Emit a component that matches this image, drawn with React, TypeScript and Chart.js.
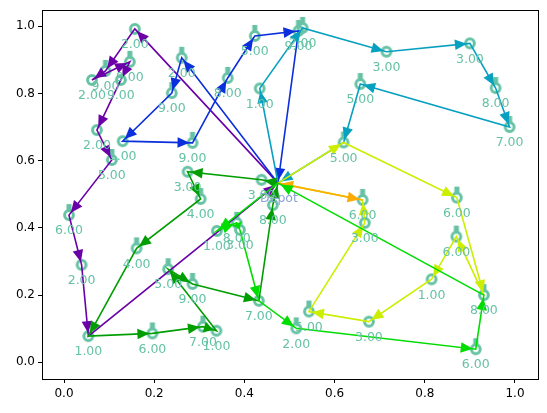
import React, { useEffect, useRef } from 'react';
import { Chart, registerables } from 'chart.js';

Chart.register(...registerables);

// Node data (index 0 is the depot)
const nodeX = [
  0.4745, 0.157, 0.092, 0.062, 0.146, 0.126, 0.073, 0.106, 0.011, 0.039,
  0.054, 0.261, 0.239, 0.13, 0.285, 0.363, 0.423, 0.52, 0.529, 0.434,
  0.715, 0.9, 0.957, 0.988, 0.657, 0.62, 0.871, 0.931, 0.87, 0.815,
  0.676, 0.543, 0.667, 0.662, 0.913, 0.515, 0.432, 0.339, 0.383, 0.39,
  0.438, 0.463, 0.274, 0.303, 0.161, 0.196, 0.308, 0.338, 0.231, 0.285,
];
const nodeY = [
  0.533, 0.992, 0.867, 0.84, 0.894, 0.84, 0.691, 0.602, 0.438, 0.29,
  0.078, 0.906, 0.801, 0.658, 0.653, 0.846, 0.971, 0.986, 0.995, 0.815,
  0.924, 0.949, 0.816, 0.7, 0.828, 0.654, 0.49, 0.2, 0.374, 0.247,
  0.121, 0.151, 0.415, 0.483, 0.039, 0.101, 0.183, 0.391, 0.415, 0.394,
  0.543, 0.468, 0.567, 0.486, 0.339, 0.086, 0.106, 0.094, 0.277, 0.233,
];
const nodeLabels = [
  'Depot', '2.00', '9.00', '2.00', '9.00', '9.00', '2.00', '5.00', '6.00', '2.00',
  '1.00', '2.00', '9.00', '1.00', '9.00', '8.00', '5.00', '9.00', '2.00', '1.00',
  '3.00', '3.00', '8.00', '7.00', '5.00', '5.00', '6.00', '8.00', '6.00', '1.00',
  '3.00', '5.00', '3.00', '6.00', '6.00', '2.00', '7.00', '1.00', '8.00', '3.00',
  '3.00', '8.00', '3.00', '4.00', '4.00', '6.00', '7.00', '1.00', '5.00', '9.00',
];
const nodePins = [
  false, false, true, false, true, false, false, true, true, false,
  false, true, true, false, true, true, true, true, true, false,
  false, false, true, true, true, true, true, true, true, false,
  false, true, false, true, true, true, false, false, true, false,
  false, false, false, true, true, true, true, false, true, true,
];

// Routes as sequences of node indices
const routeStops = [
  [0, 1, 2, 3, 4, 5, 6, 7, 8, 9, 10, 0],
  [0, 11, 12, 13, 14, 15, 16, 17, 0],
  [0, 19, 18, 20, 21, 22, 23, 24, 25, 0],
  [0, 40, 42, 43, 44, 10, 45, 46, 47, 48, 49, 36, 41, 0],
  [0, 25, 26, 27, 28, 29, 30, 31, 32, 33, 0],
  [0, 33, 0],
  [0, 37, 38, 39, 36, 35, 34, 27, 0],
];
const routeColors = ['#6a00a8', '#0b2fdc', '#07a0c0', '#009e00', '#ccee00', '#ffaa00', '#00dd00'];

const xTicks = [0, 0.2, 0.4, 0.6, 0.8, 1.0];
const yTicks = [0, 0.2, 0.4, 0.6, 0.8, 1.0];

const NODE_COLOR = '#66c2a5';
const DEPOT_COLOR = '#8da0d8';
const FONT = "'DejaVu Sans', sans-serif";

function makeMarker(pin: boolean): HTMLCanvasElement {
  const c = document.createElement('canvas');
  c.width = 16;
  c.height = 32;
  const g = c.getContext('2d')!;
  g.strokeStyle = NODE_COLOR;
  g.lineWidth = 3;
  g.beginPath();
  g.arc(8, 16, 4.4, 0, Math.PI * 2);
  g.stroke();
  if (pin) {
    g.fillStyle = NODE_COLOR;
    g.fillRect(5.5, 5, 5, 7);
  }
  return c;
}

export default function App() {
  const ref = useRef<HTMLCanvasElement | null>(null);

  useEffect(() => {
    document.body.style.margin = '0';
    const canvas = ref.current!;
    const ringImg = makeMarker(false);
    const pinImg = makeMarker(true);

    const customerIdx = nodeX.map((_, i) => i).filter((i) => i !== 0);

    const datasets: any[] = [
      {
        label: 'nodes',
        data: customerIdx.map((i) => ({ x: nodeX[i], y: nodeY[i] })),
        pointStyle: customerIdx.map((i) => (nodePins[i] ? pinImg : ringImg)),
        pointRadius: 5,
        showLine: false,
        order: 100,
      },
      ...routeStops.map((stops, r) => ({
        label: 'route' + r,
        data: stops.map((i) => ({ x: nodeX[i], y: nodeY[i] })),
        showLine: true,
        borderColor: routeColors[r],
        borderWidth: 1.6,
        pointRadius: 0,
        fill: false,
        order: 50 - r,
      })),
    ];

    const arrowPlugin = {
      id: 'arrowHeads',
      afterDatasetDraw(chart: any, args: any) {
        const idx = args.index;
        if (idx === 0) return;
        const r = idx - 1;
        const stops = routeStops[r];
        const xs = chart.scales.x;
        const ys = chart.scales.y;
        const ctx = chart.ctx;
        ctx.save();
        ctx.fillStyle = routeColors[r];
        for (let k = 1; k < stops.length; k++) {
          const a = stops[k - 1];
          const b = stops[k];
          const x1 = xs.getPixelForValue(nodeX[a]);
          const y1 = ys.getPixelForValue(nodeY[a]);
          const x2 = xs.getPixelForValue(nodeX[b]);
          const y2 = ys.getPixelForValue(nodeY[b]);
          const dx = x2 - x1;
          const dy = y2 - y1;
          const len = Math.hypot(dx, dy);
          if (len < 2) continue;
          const ux = dx / len;
          const uy = dy / len;
          const shrink = Math.min(3, len * 0.2);
          const tx = x2 - ux * shrink;
          const ty = y2 - uy * shrink;
          const hl = Math.min(12, len * 0.7);
          const hw = 5.3;
          const bx = tx - ux * hl;
          const by = ty - uy * hl;
          ctx.beginPath();
          ctx.moveTo(tx, ty);
          ctx.lineTo(bx - uy * hw, by + ux * hw);
          ctx.lineTo(bx + uy * hw, by - ux * hw);
          ctx.closePath();
          ctx.fill();
        }
        ctx.restore();
      },
    };

    const labelPlugin = {
      id: 'nodeLabels',
      afterDraw(chart: any) {
        const xs = chart.scales.x;
        const ys = chart.scales.y;
        const ctx = chart.ctx;
        ctx.save();
        ctx.font = `12.5px ${FONT}`;
        ctx.textAlign = 'center';
        ctx.textBaseline = 'middle';
        nodeLabels.forEach((t, i) => {
          ctx.fillStyle = i === 0 ? DEPOT_COLOR : NODE_COLOR;
          const px = xs.getPixelForValue(nodeX[i]);
          const py = ys.getPixelForValue(nodeY[i]);
          ctx.fillText(t, px + (i === 0 ? 1 : 0), py + 16);
        });
        const a = chart.chartArea;
        ctx.strokeStyle = '#000';
        ctx.lineWidth = 1;
        ctx.strokeRect(Math.round(a.left) + 0.5, Math.round(a.top) + 0.5, Math.round(a.right - a.left), Math.round(a.bottom - a.top));
        ctx.restore();
      },
    };

    const chart = new Chart(canvas, {
      type: 'scatter',
      data: { datasets },
      options: {
        animation: false,
        responsive: false,
        devicePixelRatio: 1,
        layout: { padding: { top: 10, right: 9, left: 0, bottom: 0 } },
        plugins: { legend: { display: false }, tooltip: { enabled: false } },
        scales: {
          x: {
            type: 'linear',
            min: -0.0488,
            max: 1.051,
            afterBuildTicks: (s: any) => {
              s.ticks = xTicks.map((v) => ({ value: v }));
            },
            afterFit: (s: any) => {
              s.height = 34;
            },
            ticks: {
              callback: (v: any) => Number(v).toFixed(1),
              color: '#000',
              font: { family: FONT, size: 12 },
              padding: 4,
              maxRotation: 0,
              autoSkip: false,
            },
            grid: { drawOnChartArea: false, drawTicks: true, tickLength: 4, tickColor: '#000' },
            border: { display: false },
          },
          y: {
            type: 'linear',
            min: -0.0497,
            max: 1.0476,
            afterBuildTicks: (s: any) => {
              s.ticks = yTicks.map((v) => ({ value: v }));
            },
            afterFit: (s: any) => {
              s.width = 42;
            },
            ticks: {
              callback: (v: any) => Number(v).toFixed(1),
              color: '#000',
              font: { family: FONT, size: 12 },
              padding: 3,
              autoSkip: false,
            },
            grid: { drawOnChartArea: false, drawTicks: true, tickLength: 4, tickColor: '#000' },
            border: { display: false },
          },
        },
      },
      plugins: [arrowPlugin, labelPlugin],
    } as any);

    return () => chart.destroy();
  }, []);

  return (
    <div style={{ width: 547, height: 413 }}>
      <canvas ref={ref} width={547} height={413} style={{ display: 'block' }} />
    </div>
  );
}
